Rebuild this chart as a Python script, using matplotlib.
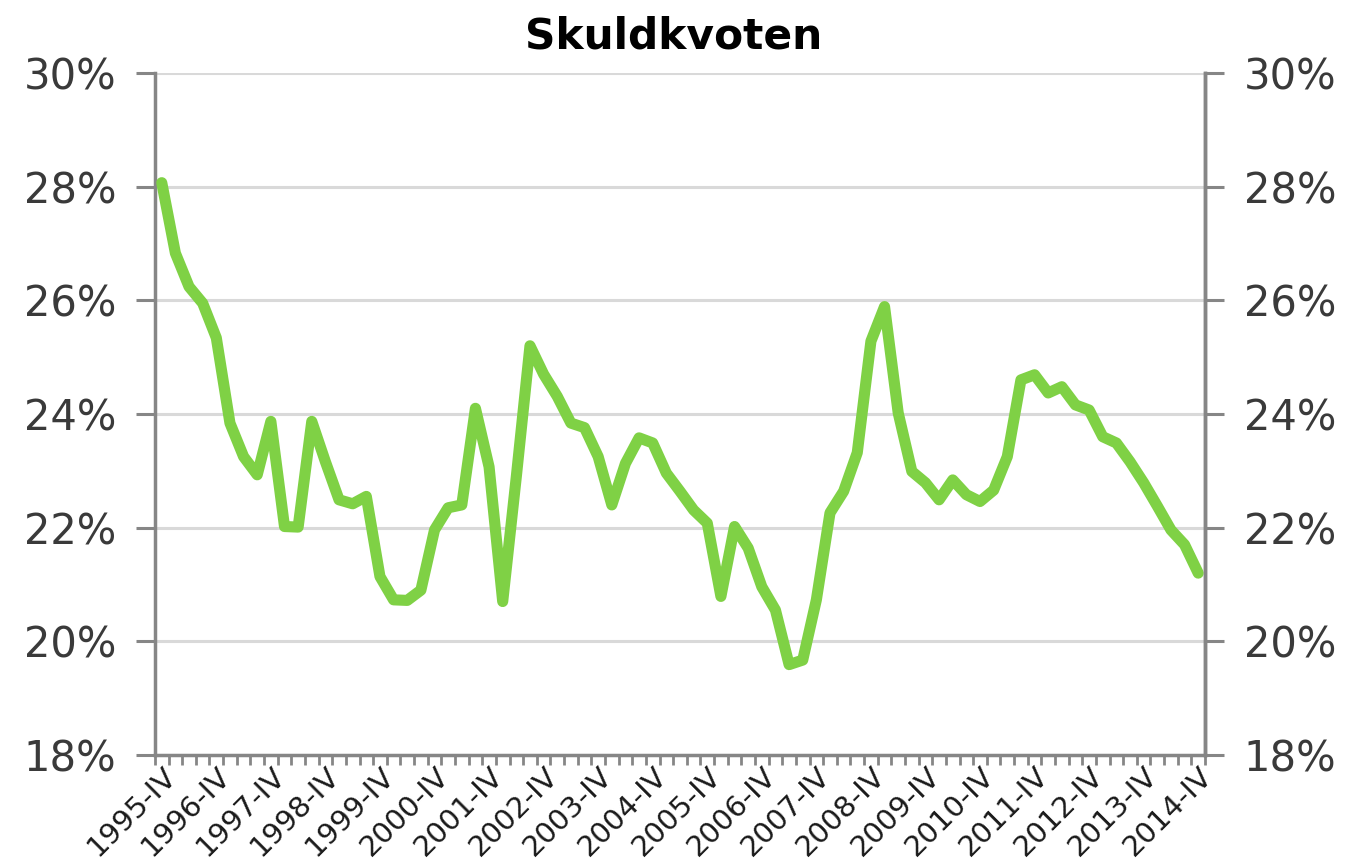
import numpy as np
import matplotlib.pyplot as plt
from matplotlib.ticker import FuncFormatter

# quarterly debt ratio (%), 1995-IV .. 2014-IV
years = list(range(1995, 2015))
quarter_names = ['I', 'II', 'III', 'IV']
quarters = ['1995-IV'] + [f"{y}-{q}" for y in years[1:] for q in quarter_names]

skuldkvot = [28.07, 26.83, 26.24, 25.95, 25.34, 23.84, 23.25, 22.93, 23.87, 22.02,
             22.01, 23.87, 23.16, 22.49, 22.42, 22.55, 21.14, 20.73, 20.72, 20.9,
             21.96, 22.35, 22.4, 24.1, 23.07, 20.7, 22.9, 25.2, 24.7, 24.31,
             23.84, 23.76, 23.25, 22.4, 23.13, 23.58, 23.49, 22.96, 22.64, 22.31,
             22.08, 20.79, 22.02, 21.64, 20.96, 20.55, 19.59, 19.67, 20.73, 22.26,
             22.64, 23.32, 25.28, 25.89, 24.02, 22.99, 22.79, 22.49, 22.84, 22.58,
             22.46, 22.66, 23.25, 24.6, 24.69, 24.37, 24.48, 24.16, 24.07, 23.6,
             23.49, 23.16, 22.79, 22.38, 21.96, 21.7, 21.2]

yticks = [18, 20, 22, 24, 26, 28, 30]

axis_col = '#868686'
grid_col = '#d9d9d9'
text_col = '#3a3a3a'

fig = plt.figure(figsize=(13.52, 8.68), dpi=100)
ax = fig.add_axes([0.1146, 0.1302, 0.7767, 0.7857])

x = np.arange(len(quarters))
ax.plot(x, skuldkvot, color='#7fd145', lw=8, solid_joinstyle='round',
        solid_capstyle='round', zorder=3)

ax.set_xlim(-0.5, len(quarters) - 0.5)
ax.set_ylim(18, 30)
ax.set_yticks(yticks)
pct = FuncFormatter(lambda v, p: f"{v:.0f}%")
ax.yaxis.set_major_formatter(pct)
ax.grid(axis='y', color=grid_col, lw=2.2, zorder=0)

# labels every year, tick marks between categories
ax.set_xticks(x[::4])
ax.set_xticklabels(quarters[::4], rotation=45, ha='right', rotation_mode='anchor',
                   fontsize=21, color='#1a1a1a')
ax.set_xticks(np.arange(-0.5, len(quarters)), minor=True)
ax.tick_params(axis='x', which='major', length=0, pad=5)
ax.tick_params(axis='x', which='minor', length=7, width=2, color=axis_col, direction='out')
ax.tick_params(axis='y', length=14, width=2.2, color=axis_col, labelsize=30,
               labelcolor=text_col, pad=14)

ax.spines['top'].set_visible(False)
for s in ['left', 'bottom', 'right']:
    ax.spines[s].set_color(axis_col)
    ax.spines[s].set_linewidth(2.5)

ax2 = ax.twinx()
ax2.set_ylim(18, 30)
ax2.set_yticks(yticks)
ax2.yaxis.set_major_formatter(pct)
ax2.tick_params(axis='y', length=14, width=2.2, color=axis_col, labelsize=30,
                labelcolor=text_col, pad=14)
ax2.spines['top'].set_visible(False)
ax2.spines['left'].set_visible(False)
ax2.spines['bottom'].set_visible(False)
ax2.spines['right'].set_color(axis_col)
ax2.spines['right'].set_linewidth(2.5)

fig.text(0.498, 0.958, 'Skuldkvoten', ha='center', va='center',
         fontsize=30.5, fontweight='bold', color='black')

fig.savefig('out.png', dpi=100)
